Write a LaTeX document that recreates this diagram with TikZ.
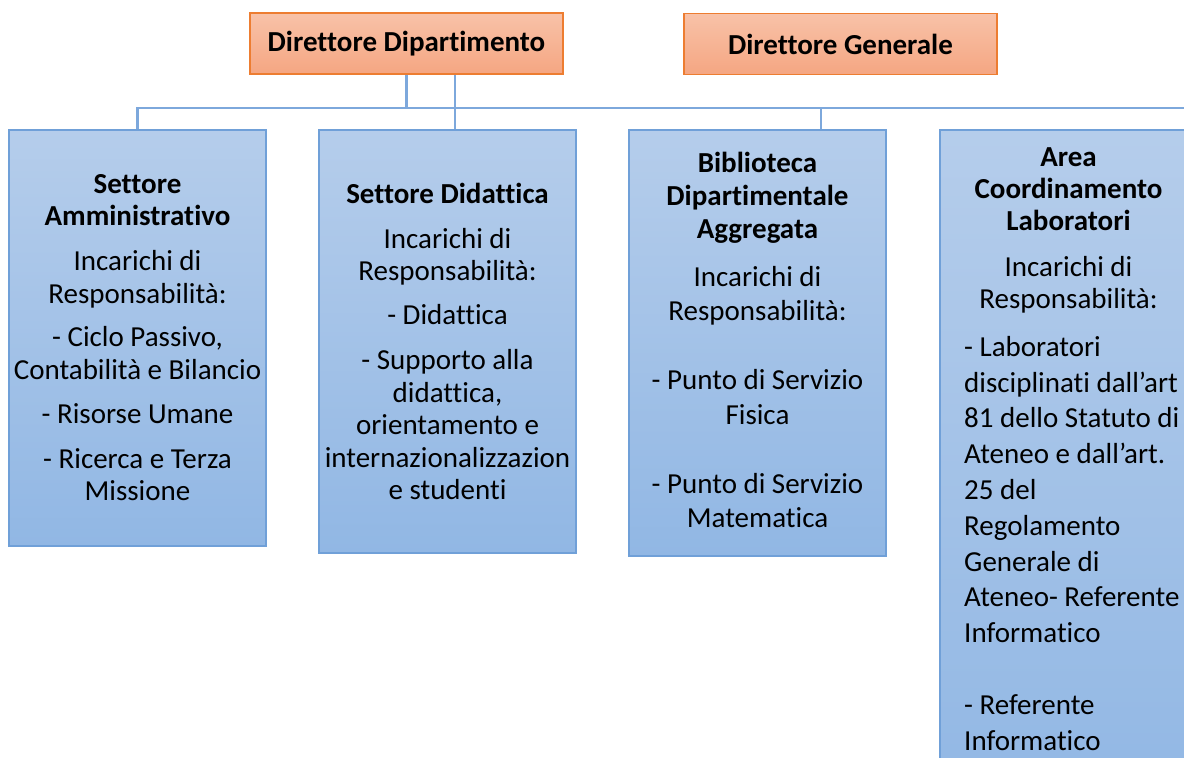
\documentclass[tikz,border=0pt]{standalone}
\usepackage{fontspec}
\setmainfont{Carlito}[Ligatures=NoCommon]
\definecolor{btop}{RGB}{181,205,235}
\definecolor{bbot}{RGB}{145,183,228}
\definecolor{bborder}{RGB}{112,160,216}
\definecolor{otop}{RGB}{248,194,168}
\definecolor{obot}{RGB}{245,166,130}
\definecolor{oborder}{RGB}{237,125,49}
\definecolor{lcol}{RGB}{125,168,220}
\newcommand{\mystrut}{\rule{0pt}{24pt}}
\begin{document}
\begin{tikzpicture}[x=1pt,y=-1pt,
  bluebox/.style={draw=bborder, line width=1.3pt, top color=btop, bottom color=bbot, rectangle, inner sep=0pt, minimum width=257pt},
  orangebox/.style={draw=oborder, line width=1.3pt, top color=otop, bottom color=obot, rectangle, inner sep=0pt, minimum width=313pt, minimum height=61pt, font=\bfseries\fontsize{29}{33}\selectfont},
  conn/.style={draw=lcol, line width=2.6pt},
  txt/.style={anchor=north, align=center, inner sep=0pt},
]
\useasboundingbox (0,0) rectangle (1184,758);
\clip (0,0) rectangle (1184,758);
\fill[white] (0,0) rectangle (1184,758);

% top boxes
\node[orangebox] (dd) at (406.5,43.5) {Direttore Dipartimento};
\node[orangebox] (dg) at (840.5,44) {Direttore Generale};

% lower boxes
\node[bluebox, minimum height=416pt] (sa) at (137.5,338) {};
\node[bluebox, minimum height=423pt] (sd) at (447.5,341.5) {};
\node[bluebox, minimum height=426pt] (bib) at (757.5,343) {};
\node[bluebox, minimum height=680pt] (area) at (1068.5,470) {};

% connectors
\coordinate (busR) at (1200,108);
\draw[conn] (sa.north) |- (busR);
\draw[conn] (dd.south) -- (dd.south |- busR);
\draw[conn] ([xshift=7.5pt]sd.north) -- ([xshift=7.5pt]sd.north |- dd.south);
\draw[conn] ([xshift=63.5pt]bib.north) -- ([xshift=63.5pt]bib.north |- busR);

% texts
\node[txt, font=\fontsize{29}{32.5}\selectfont] (satxt) at (137.5,169) {%
\mystrut\textbf{Settore}\\
\textbf{Amministrativo}\\[12.5pt]
Incarichi di\\
Responsabilità:\\[11pt]
- Ciclo Passivo,\\
Contabilità e Bilancio\\[12pt]
- Risorse Umane\\[12pt]
- Ricerca e Terza\\
Missione};

\node[txt, font=\fontsize{29}{32.5}\selectfont] (sdtxt) at (447.5,179) {%
\mystrut\textbf{Settore Didattica}\\[12.5pt]
Incarichi di\\
Responsabilità:\\[11.5pt]
- Didattica\\[12.5pt]
- Supporto alla\\
didattica,\\
orientamento e\\
internazionalizzazion\\
e studenti};

\node[txt, font=\fontsize{29}{34.5}\selectfont] (bibtxt) at (757.5,148) {%
\mystrut\textbf{Biblioteca}\\[-1.5pt]
\textbf{Dipartimentale}\\[-1.5pt]
\textbf{Aggregata}\\[13.5pt]
Incarichi di\\
Responsabilità:\\[34.5pt]
- Punto di Servizio\\
Fisica\\[34.5pt]
- Punto di Servizio\\
Matematica};

\node[txt, font=\fontsize{29}{32}\selectfont] (areahead) at (1068.5,142) {%
\mystrut\textbf{Area}\\
\textbf{Coordinamento}\\
\textbf{Laboratori}\\[14pt]
Incarichi di\\
Responsabilità:};

\node[anchor=north west, align=left, inner sep=0pt, font=\fontsize{29}{35.8}\selectfont] (areatxt) at (964,332) {%
\mystrut- Laboratori\\
disciplinati dall’art\\
81 dello Statuto di\\
Ateneo e dall’art.\\
25 del\\
Regolamento\\
Generale di\\
Ateneo- Referente\\
Informatico\\[35.8pt]
- Referente\\
Informatico};
\end{tikzpicture}
\end{document}
